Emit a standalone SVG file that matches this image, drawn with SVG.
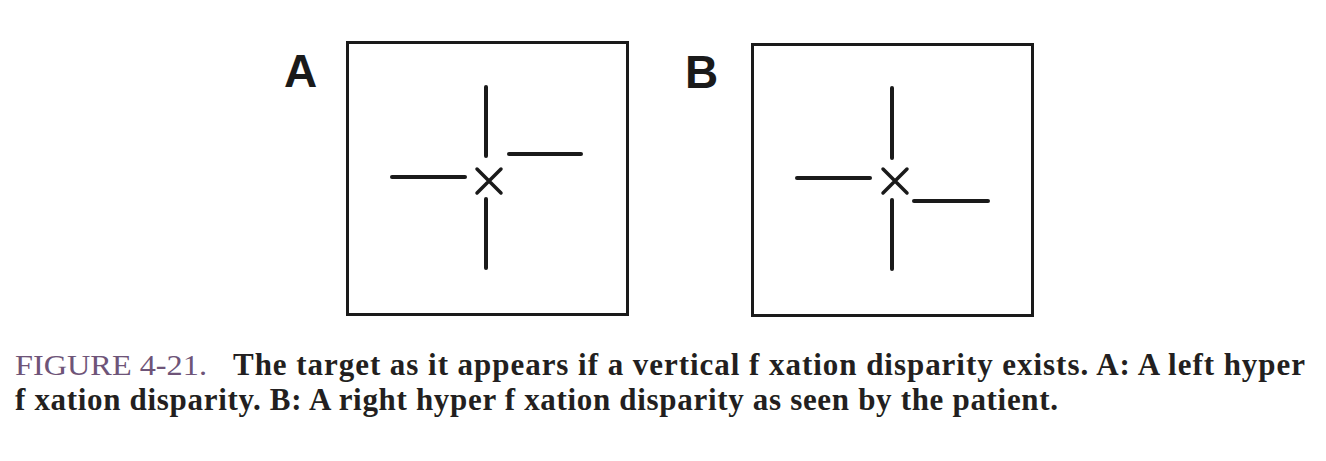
<svg xmlns="http://www.w3.org/2000/svg" width="1326" height="461" viewBox="0 0 1326 461">
<style>
.box{fill:none;stroke:#1a1a1a;stroke-width:3}
.ln{stroke:#1a1a1a;stroke-width:4;stroke-linecap:round;fill:none}
.x{stroke:#1a1a1a;stroke-width:3.5;stroke-linecap:round;fill:none}
.lbl{font-family:"Liberation Sans",Arial,sans-serif;font-weight:bold;font-size:46px;fill:#1a1a1a}
.fig{font-family:"Liberation Serif","Times New Roman",serif;font-size:30px;fill:#6e5478}
.cap{font-family:"Liberation Serif","Times New Roman",serif;font-weight:bold;font-size:31px;fill:#231f20}
</style>
<rect width="1326" height="461" fill="#ffffff"/>
<g id="panelA">
<text class="lbl" x="284" y="87">A</text>
<rect class="box" x="347.5" y="42.5" width="280" height="272"/>
<line class="ln" x1="486" y1="87" x2="486" y2="156"/>
<line class="ln" x1="486" y1="199" x2="486" y2="268"/>
<line class="ln" x1="392" y1="177" x2="465" y2="177"/>
<line class="ln" x1="509" y1="154" x2="581" y2="154"/>
<path class="x" d="M477 169 L501 193 M501 169 L477 193"/>
</g>
<g id="panelB">
<text class="lbl" x="685" y="88">B</text>
<rect class="box" x="752.5" y="44.5" width="280" height="271"/>
<line class="ln" x1="892" y1="88" x2="892" y2="158"/>
<line class="ln" x1="892" y1="200" x2="892" y2="269"/>
<line class="ln" x1="797" y1="178" x2="870" y2="178"/>
<line class="ln" x1="914" y1="201" x2="988" y2="201"/>
<path class="x" d="M883 169 L907 193 M907 169 L883 193"/>
</g>
<g id="connectors"></g>
<g id="caption">
<text class="fig" x="15" y="375" textLength="192" lengthAdjust="spacingAndGlyphs">FIGURE 4-21.</text>
<text class="cap" x="233" y="375" textLength="1072" lengthAdjust="spacing">The target as it appears if a vertical f xation disparity exists. A: A left hyper</text>
<text class="cap" x="15" y="410" textLength="1043" lengthAdjust="spacing">f xation disparity. B: A right hyper f xation disparity as seen by the patient.</text>
</g>
</svg>
